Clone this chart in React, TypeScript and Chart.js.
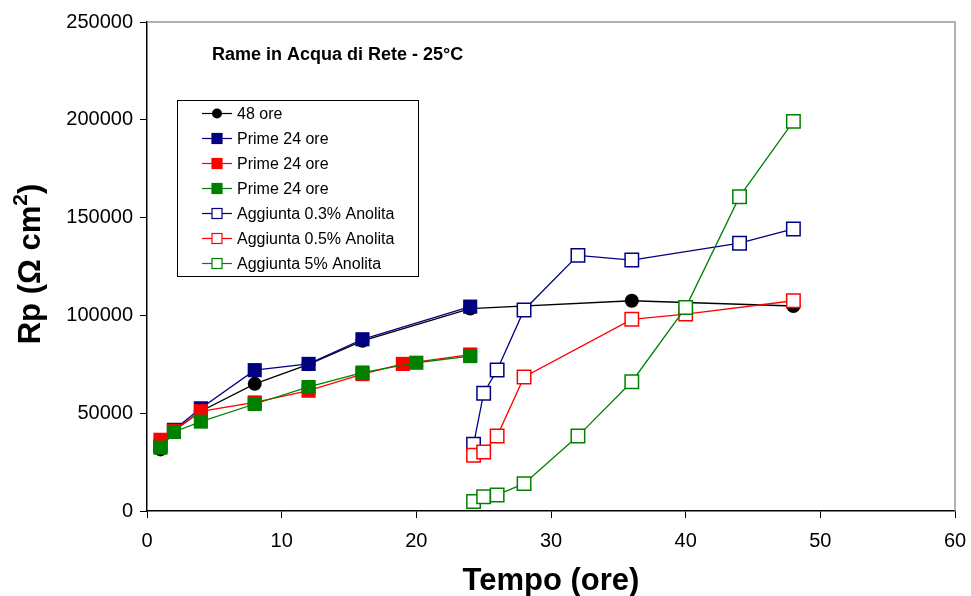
import React, { useEffect, useRef } from "react";
import { Chart, registerables } from "chart.js";

Chart.register(...registerables);

// ---- data ----
const ore48X = [1, 2, 4, 8, 12, 16, 24, 36, 48];
const ore48Y = [31500, 41000, 51000, 65000, 75000, 87000, 103500, 107500, 104800];

const blueFilledX = [1, 2, 4, 8, 12, 16, 24];
const blueFilledY = [33000, 41500, 52500, 72000, 75200, 87800, 104500];

const redFilledX = [1, 2, 4, 8, 12, 16, 19, 24];
const redFilledY = [36400, 41000, 51000, 55500, 61500, 70000, 75200, 80000];

const greenFilledX = [1, 2, 4, 8, 12, 16, 20, 24];
const greenFilledY = [32400, 40400, 45700, 54700, 63400, 70800, 75800, 79200];

const blueOpenX = [24.25, 25, 26, 28, 32, 36, 44, 48];
const blueOpenY = [34100, 60200, 72100, 102800, 130700, 128300, 136900, 144200];

const redOpenX = [24.25, 25, 26, 28, 36, 40, 48];
const redOpenY = [28500, 30200, 38300, 68500, 98000, 100700, 107500];

const greenOpenX = [24.25, 25, 26, 28, 32, 36, 40, 44, 48];
const greenOpenY = [4900, 7300, 8200, 14000, 38300, 66100, 104000, 160700, 199200];

const seriesLabels = [
  "48 ore",
  "Prime 24 ore",
  "Prime 24 ore",
  "Prime 24 ore",
  "Aggiunta 0.3% Anolita",
  "Aggiunta 0.5% Anolita",
  "Aggiunta 5% Anolita",
];

const chartTitle = "Rame in Acqua di Rete - 25°C";
const xTitle = "Tempo (ore)";
const yTitleMain = "Rp (Ω cm";
const yTitleSup = "2";
const yTitleEnd = ")";

const FONT = "Arial, 'Liberation Sans', sans-serif";

const NAVY = "#000080";
const RED = "#FF0000";
const GREEN = "#008000";

function pts(xs: number[], ys: number[]) {
  return xs.map((x, i) => ({ x, y: ys[i] }));
}

const overlayPlugin = {
  id: "overlay",
  afterDraw(chart: any) {
    const { ctx, chartArea } = chart;
    const { left, right, top, bottom } = chartArea;
    ctx.save();
    // top/right gray border
    ctx.strokeStyle = "#999999";
    ctx.lineWidth = 1.5;
    ctx.beginPath();
    ctx.moveTo(left, top);
    ctx.lineTo(right, top);
    ctx.lineTo(right, bottom);
    ctx.stroke();

    // chart title
    ctx.fillStyle = "#000";
    ctx.font = `bold 18px ${FONT}`;
    ctx.textAlign = "left";
    ctx.textBaseline = "alphabetic";
    ctx.fillText(chartTitle, 212, 60);

    // x title
    ctx.font = `bold 31px ${FONT}`;
    ctx.textAlign = "center";
    ctx.fillText(xTitle, 551, 590);

    // y title with superscript
    ctx.save();
    ctx.translate(40, 264);
    ctx.rotate(-Math.PI / 2);
    ctx.textAlign = "left";
    const big = `bold 31px ${FONT}`;
    const small = `bold 21px ${FONT}`;
    ctx.font = big;
    const w1 = ctx.measureText(yTitleMain).width;
    const w3 = ctx.measureText(yTitleEnd).width;
    ctx.font = small;
    const w2 = ctx.measureText(yTitleSup).width;
    const total = w1 + w2 + w3;
    let x0 = -total / 2;
    ctx.font = big;
    ctx.fillText(yTitleMain, x0, 0);
    x0 += w1;
    ctx.font = small;
    ctx.fillText(yTitleSup, x0, -13);
    x0 += w2;
    ctx.font = big;
    ctx.fillText(yTitleEnd, x0, 0);
    ctx.restore();

    // legend
    const bx = 177, by = 100, bw = 241, bh = 176;
    ctx.fillStyle = "#fff";
    ctx.fillRect(bx, by, bw, bh);
    ctx.strokeStyle = "#000";
    ctx.lineWidth = 1;
    ctx.strokeRect(bx + 0.5, by + 0.5, bw, bh);
    const dsets = chart.data.datasets;
    ctx.font = `16px ${FONT}`;
    ctx.textAlign = "left";
    ctx.textBaseline = "middle";
    for (let i = 0; i < dsets.length; i++) {
      const ds = dsets[i];
      const cy = 113.5 + i * 25;
      ctx.strokeStyle = ds.borderColor;
      ctx.lineWidth = 1.2;
      ctx.beginPath();
      ctx.moveTo(202, cy);
      ctx.lineTo(232, cy);
      ctx.stroke();
      if (ds.pointStyle === "circle") {
        ctx.fillStyle = ds.pointBackgroundColor;
        ctx.beginPath();
        ctx.arc(217, cy, 5, 0, Math.PI * 2);
        ctx.fill();
      } else {
        ctx.fillStyle = ds.pointBackgroundColor;
        ctx.fillRect(212, cy - 5, 10, 10);
        ctx.strokeStyle = ds.pointBorderColor;
        ctx.lineWidth = 1.2;
        ctx.strokeRect(212, cy - 5, 10, 10);
      }
      ctx.fillStyle = "#000";
      ctx.fillText(ds.label, 237, cy + 1);
    }
    ctx.restore();
  },
};

export default function App() {
  const ref = useRef<HTMLCanvasElement | null>(null);

  useEffect(() => {
    if (!ref.current) return;
    const filled = (label: string, xs: number[], ys: number[], color: string, order: number, style: string) => ({
      label,
      data: pts(xs, ys),
      borderColor: color,
      backgroundColor: color,
      pointBackgroundColor: color,
      pointBorderColor: color,
      pointStyle: style,
      pointRadius: style === "circle" ? 7 : 10,
      pointBorderWidth: 0,
      borderWidth: 1.3,
      showLine: true,
      order,
    });
    const open = (label: string, xs: number[], ys: number[], color: string, order: number) => ({
      label,
      data: pts(xs, ys),
      borderColor: color,
      backgroundColor: "#ffffff",
      pointBackgroundColor: "#ffffff",
      pointBorderColor: color,
      pointStyle: "rect",
      pointRadius: 9.5,
      pointBorderWidth: 1.5,
      borderWidth: 1.3,
      showLine: true,
      order,
    });

    const chart = new Chart(ref.current, {
      type: "scatter",
      data: {
        datasets: [
          filled(seriesLabels[0], ore48X, ore48Y, "#000000", 7, "circle"),
          filled(seriesLabels[1], blueFilledX, blueFilledY, NAVY, 6, "rect"),
          filled(seriesLabels[2], redFilledX, redFilledY, RED, 5, "rect"),
          filled(seriesLabels[3], greenFilledX, greenFilledY, GREEN, 4, "rect"),
          open(seriesLabels[4], blueOpenX, blueOpenY, NAVY, 3),
          open(seriesLabels[5], redOpenX, redOpenY, RED, 2),
          open(seriesLabels[6], greenOpenX, greenOpenY, GREEN, 1),
        ] as any,
      },
      options: {
        responsive: false,
        animation: false,
        devicePixelRatio: 1,
        layout: { padding: { left: 0, top: 22, right: 16, bottom: 0 } },
        plugins: {
          legend: { display: false },
          tooltip: { enabled: false },
          title: { display: false },
        },
        scales: {
          x: {
            type: "linear",
            min: 0,
            max: 60,
            afterFit: (s: any) => {
              s.height = 85;
              s.paddingLeft = 0;
              s.paddingRight = 0;
            },
            ticks: {
              stepSize: 10,
              color: "#000",
              font: { family: FONT, size: 20 },
              padding: 11,
              maxRotation: 0,
            },
            grid: {
              drawOnChartArea: false,
              drawTicks: true,
              tickLength: 7,
              color: "#000",
            },
            border: { color: "#000", width: 1.5 },
          },
          y: {
            type: "linear",
            min: 0,
            max: 250000,
            afterFit: (s: any) => {
              s.width = 147;
              s.paddingTop = 0;
              s.paddingBottom = 0;
            },
            ticks: {
              stepSize: 50000,
              color: "#000",
              font: { family: FONT, size: 20 },
              padding: 7,
              callback: (v: any) => String(v),
            },
            grid: {
              drawOnChartArea: false,
              drawTicks: true,
              tickLength: 7,
              color: "#000",
            },
            border: { color: "#000", width: 1.5 },
          },
        },
      },
      plugins: [overlayPlugin],
    });
    return () => chart.destroy();
  }, []);

  return (
    <div style={{ position: "fixed", left: 0, top: 0, width: 971, height: 596, background: "#fff" }}>
      <canvas ref={ref} width={971} height={596} style={{ display: "block" }} />
    </div>
  );
}
